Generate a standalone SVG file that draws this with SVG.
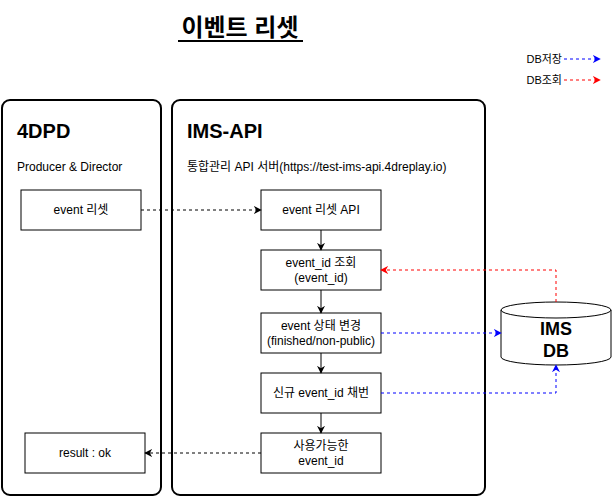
<svg xmlns="http://www.w3.org/2000/svg" width="612" height="497" viewBox="0 0 612 497">
<style>
text{font-family:"Liberation Sans","Noto Sans CJK KR",sans-serif;fill:#000}
.lbl{font-size:12px;text-anchor:middle}
.box{fill:#fff;stroke:#000;stroke-width:1}
.cont{fill:#fff;stroke:#000;stroke-width:2}
.solid{fill:none;stroke:#000;stroke-width:1}
.dk{fill:none;stroke:#000;stroke-width:1;stroke-dasharray:3 3}
.bl{fill:none;stroke:#0000ff;stroke-width:1;stroke-dasharray:3 3}
.rd{fill:none;stroke:#ff0000;stroke-width:1;stroke-dasharray:3 3}
</style>
<defs>
<marker id="mk" viewBox="0 0 10 10" refX="9" refY="5" markerWidth="8" markerHeight="8" orient="auto"><path d="M0,0 L10,5 L0,10 L3,5 Z" fill="#000"/></marker>
<marker id="mb" viewBox="0 0 10 10" refX="9" refY="5" markerWidth="8" markerHeight="8" orient="auto"><path d="M0,0 L10,5 L0,10 L3,5 Z" fill="#0000ff"/></marker>
<marker id="mr" viewBox="0 0 10 10" refX="9" refY="5" markerWidth="8" markerHeight="8" orient="auto"><path d="M0,0 L10,5 L0,10 L3,5 Z" fill="#ff0000"/></marker>
</defs>
<rect width="612" height="497" fill="#fff"/>
<g id="title">
<text x="240" y="36" font-size="24" font-weight="bold" text-anchor="middle">이벤트 리셋</text>
<line x1="178" y1="41" x2="303" y2="41" stroke="#000" stroke-width="2"/>
</g>
<g id="legend">
<text x="562" y="63" font-size="11" text-anchor="end">DB저장</text>
<text x="562" y="84" font-size="11" text-anchor="end">DB조회</text>
</g>
<g id="container-4dpd">
<rect class="cont" x="2" y="100" width="159" height="395" rx="8"/>
<text x="17" y="138" font-size="20" font-weight="bold">4DPD</text>
<text x="17" y="171" font-size="12">Producer &amp; Director</text>
</g>
<g id="container-imsapi">
<rect class="cont" x="172" y="100" width="313" height="395" rx="8"/>
<text x="187" y="138" font-size="20" font-weight="bold">IMS-API</text>
<text x="187" y="171" font-size="12">통합관리 API 서버(https://test-ims-api.4dreplay.io)</text>
</g>
<g id="n-event-reset">
<rect class="box" x="21" y="190" width="120" height="40"/>
<text class="lbl" x="81" y="214">event 리셋</text>
</g>
<g id="n-result">
<rect class="box" x="25" y="433" width="120" height="40"/>
<text class="lbl" x="85" y="457">result : ok</text>
</g>
<g id="n-reset-api">
<rect class="box" x="261" y="190" width="120" height="40"/>
<text class="lbl" x="321" y="214">event 리셋 API</text>
</g>
<g id="n-lookup">
<rect class="box" x="261" y="250" width="120" height="40"/>
<text class="lbl" x="321" y="267">event_id 조회</text>
<text class="lbl" x="321" y="282">(event_id)</text>
</g>
<g id="n-status">
<rect class="box" x="261" y="313" width="120" height="40"/>
<text class="lbl" x="321" y="330">event 상태 변경</text>
<text class="lbl" x="321" y="345">(finished/non-public)</text>
</g>
<g id="n-new-id">
<rect class="box" x="261" y="373" width="120" height="40"/>
<text class="lbl" x="321" y="397">신규 event_id 채번</text>
</g>
<g id="n-available">
<rect class="box" x="261" y="433" width="120" height="40"/>
<text class="lbl" x="321" y="450">사용가능한</text>
<text class="lbl" x="321" y="465">event_id</text>
</g>
<g id="n-db">
<path d="M501,310 A55,8 0 0 1 611,310 L611,357 A55,8 0 0 1 501,357 Z" fill="#fff" stroke="#000" stroke-width="1"/>
<path d="M501,310 A55,8 0 0 0 611,310" fill="none" stroke="#000" stroke-width="1"/>
<text x="556" y="335" font-size="18" font-weight="bold" text-anchor="middle">IMS</text>
<text x="556" y="357" font-size="18" font-weight="bold" text-anchor="middle">DB</text>
</g>
<g id="connectors">
<path class="bl" d="M564,59 L600,59" marker-end="url(#mb)"/>
<path class="rd" d="M564,80 L600,80" marker-end="url(#mr)"/>
<path class="dk" d="M141,210 L261,210" marker-end="url(#mk)"/>
<path class="solid" d="M321,230 L321,250" marker-end="url(#mk)"/>
<path class="solid" d="M321,290 L321,313" marker-end="url(#mk)"/>
<path class="solid" d="M321,353 L321,373" marker-end="url(#mk)"/>
<path class="solid" d="M321,413 L321,433" marker-end="url(#mk)"/>
<path class="rd" d="M556,302 L556,270 L381,270" marker-end="url(#mr)"/>
<path class="bl" d="M381,333 L501,333" marker-end="url(#mb)"/>
<path class="bl" d="M381,393 L556,393 L556,365" marker-end="url(#mb)"/>
<path class="dk" d="M261,453 L145,453" marker-end="url(#mk)"/>
</g>
</svg>
